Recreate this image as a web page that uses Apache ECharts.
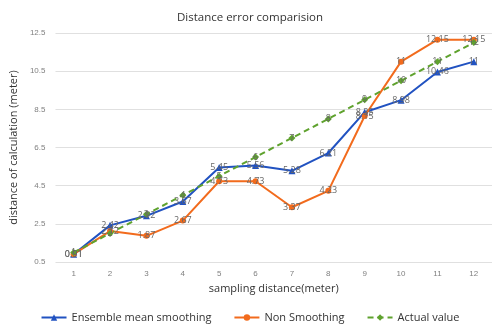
<!DOCTYPE html>
<html><head><meta charset="utf-8">
<script src="https://cdn.jsdelivr.net/npm/echarts@6/dist/echarts.min.js"></script>
<style>html,body{margin:0;padding:0;background:#fff}#c{width:500px;height:332px}</style>
</head><body><div id="c"></div>
<script>
var categories = ['1','2','3','4','5','6','7','8','9','10','11','12'];
var ensembleMean = [0.91, 2.42, 2.92, 3.67, 5.45, 5.56, 5.28, 6.21, 8.35, 8.98, 10.46, 11];
var nonSmoothing = [0.91, 2.12, 1.87, 2.67, 4.73, 4.73, 3.37, 4.23, 8.15, 11, 12.15, 12.15];
var actualValue = [1, 2, 3, 4, 5, 6, 7, 8, 9, 10, 11, 12];
var yTicks = [0.5, 2.5, 4.5, 6.5, 8.5, 10.5, 12.5];

var chart = echarts.init(document.getElementById('c'));
var lbl = {show: true, position: 'inside', color: '#666666', fontSize: 9, fontFamily: 'Open Sans'};
chart.setOption({
  animation: false,
  title: {text: 'Distance error comparision', left: 'center', top: 7,
    textStyle: {fontSize: 11.5, fontWeight: 'normal', color: '#333333', fontFamily: 'Open Sans'}},
  grid: {left: 50, right: 8, top: 33, bottom: 70},
  xAxis: {type: 'category', data: categories, boundaryGap: true,
    name: 'sampling distance(meter)', nameLocation: 'middle', nameGap: 20,
    nameTextStyle: {fontSize: 11, color: '#333333', fontFamily: 'Open Sans'},
    axisLine: {show: false}, axisTick: {show: false},
    axisLabel: {fontSize: 8, color: '#808080', margin: 8}},
  yAxis: {type: 'value', min: yTicks[0], max: yTicks[yTicks.length-1], interval: 2,
    name: 'distance of calculation (meter)', nameLocation: 'middle', nameGap: 28,
    nameTextStyle: {fontSize: 11, color: '#333333', fontFamily: 'Open Sans'},
    axisLabel: {fontSize: 8, color: '#808080', margin: 10, formatter: function(v){return v.toFixed(1);}},
    splitLine: {lineStyle: {color: '#e0e0e0', width: 1}}},
  legend: {bottom: 4, itemGap: 22, itemWidth: 25, itemHeight: 8,
    textStyle: {fontSize: 11, color: '#333333', fontFamily: 'Open Sans'},
    data: ['Ensemble mean smoothing', 'Non Smoothing', 'Actual value']},
  series: [
    {name: 'Ensemble mean smoothing', type: 'line', data: ensembleMean, symbol: 'triangle', symbolSize: 7,
      itemStyle: {color: '#2152C1'}, lineStyle: {width: 2, color: '#2152C1'}, label: lbl},
    {name: 'Non Smoothing', type: 'line', data: nonSmoothing, symbol: 'circle', symbolSize: 6,
      itemStyle: {color: '#F26B1D'}, lineStyle: {width: 2, color: '#F26B1D'}, label: lbl},
    {name: 'Actual value', type: 'line', data: actualValue, symbol: 'diamond', symbolSize: 7,
      itemStyle: {color: '#5FA22E'}, lineStyle: {width: 2, type: [6, 4], color: '#5FA22E'}, label: lbl}
  ]
});
</script></body></html>
